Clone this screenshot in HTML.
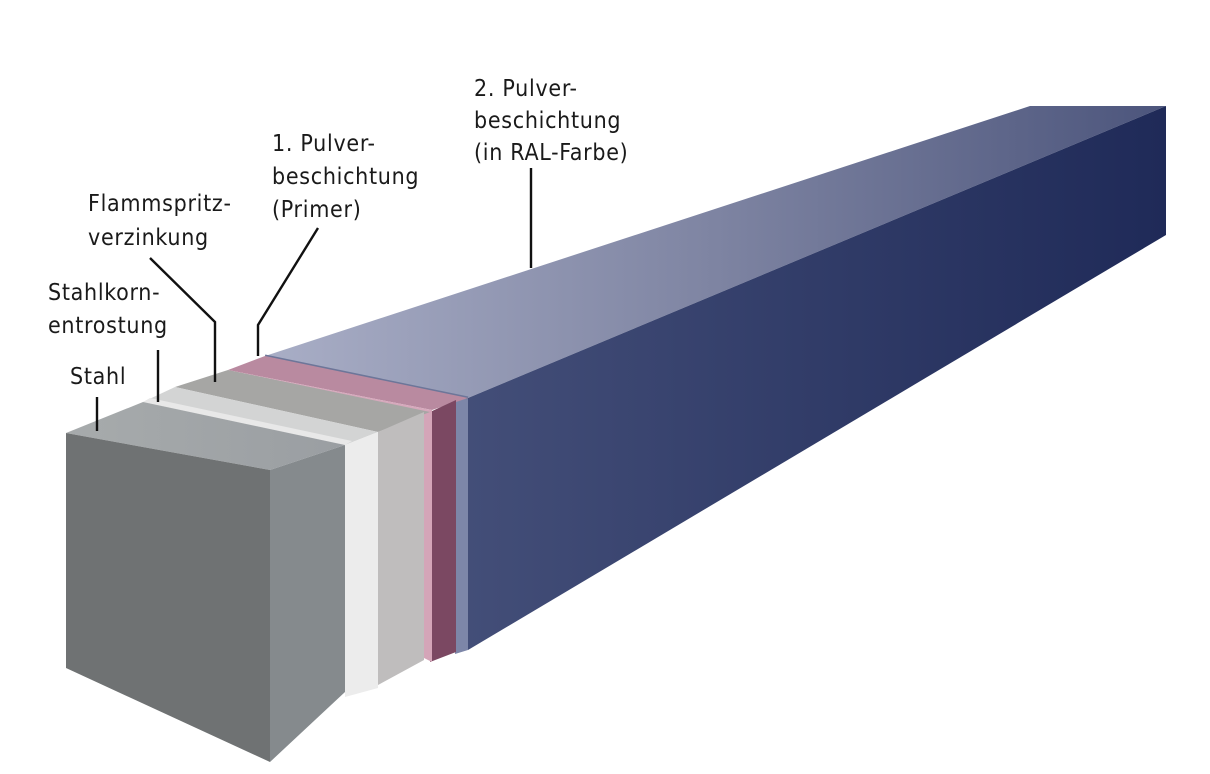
<!DOCTYPE html>
<html><head><meta charset="utf-8"><style>
html,body{margin:0;padding:0;background:#fff;}
svg{display:block}
text{font-family:"DejaVu Sans Condensed","Liberation Sans",sans-serif;font-size:23px;letter-spacing:0.7px;fill:#1a1a1a;}
</style></head><body>
<svg width="1210" height="774" viewBox="0 0 1210 774" xmlns="http://www.w3.org/2000/svg">
<defs>
<linearGradient id="bt" x1="265" y1="0" x2="1166" y2="0" gradientUnits="userSpaceOnUse">
<stop offset="0" stop-color="#a9aec6"/><stop offset="0.5" stop-color="#7e84a2"/><stop offset="1" stop-color="#4c557c"/></linearGradient>
<linearGradient id="bs" x1="468" y1="0" x2="1166" y2="0" gradientUnits="userSpaceOnUse">
<stop offset="0" stop-color="#434e78"/><stop offset="1" stop-color="#1f2a58"/></linearGradient>
<linearGradient id="st" x1="66" y1="0" x2="345" y2="0" gradientUnits="userSpaceOnUse">
<stop offset="0" stop-color="#a7abac"/><stop offset="1" stop-color="#9a9ea2"/></linearGradient>
</defs>
<polygon points="265,356 1030,106 1166,106 468,398" fill="url(#bt)"/>
<polygon points="468,398 1166,106 1166,235 468,650" fill="url(#bs)"/>
<polygon points="455,398 468,398 468,650 455,654" fill="#7d86a8"/>
<line x1="265" y1="356" x2="468" y2="398" stroke="#6d7699" stroke-width="3"/>
<polygon points="228,370 265,356 468,398 432,410" fill="#b98aa0"/>
<polygon points="228,370 432,410 430,416 228,374" fill="#d6a9bc"/>
<polygon points="430,412 456,400 456,652 430,662" fill="#7b4862"/>
<polygon points="424,412 432,410 432,662 424,658" fill="#d4a5b8"/>
<polygon points="175,387 228,370 430,412 378,432" fill="#a6a6a4"/>
<polygon points="378,432 424,412 424,660 378,685" fill="#bfbdbd"/>
<polygon points="143,402 175,387 378,432 345,445" fill="#d3d4d4"/>
<polygon points="143,402 150,398 352,441 345,445" fill="#e8e8e8"/>
<polygon points="345,445 378,432 378,688 345,697" fill="#ececec"/>
<polygon points="66,433 143,402 345,445 270,470" fill="url(#st)"/>
<polygon points="270,470 345,445 345,692 270,762" fill="#858a8d"/>
<polygon points="66,433 270,470 270,762 66,668" fill="#6f7273"/>
<g stroke="#111" stroke-width="2.4" fill="none">
<line x1="97" y1="397" x2="97" y2="431"/>
<line x1="158" y1="350" x2="158" y2="402"/>
<polyline points="150,258 215,322 215,382"/>
<polyline points="318,228 258,325 258,356"/>
<line x1="531" y1="168" x2="531" y2="268"/>
</g>
<text x="70" y="384">Stahl</text>
<text x="48" y="300">Stahlkorn-</text>
<text x="48" y="333">entrostung</text>
<text x="88" y="211">Flammspritz-</text>
<text x="88" y="245">verzinkung</text>
<text x="272" y="151">1. Pulver-</text>
<text x="272" y="184">beschichtung</text>
<text x="272" y="217">(Primer)</text>
<text x="474" y="96">2. Pulver-</text>
<text x="474" y="128">beschichtung</text>
<text x="474" y="160">(in RAL-Farbe)</text>
</svg>
</body></html>
